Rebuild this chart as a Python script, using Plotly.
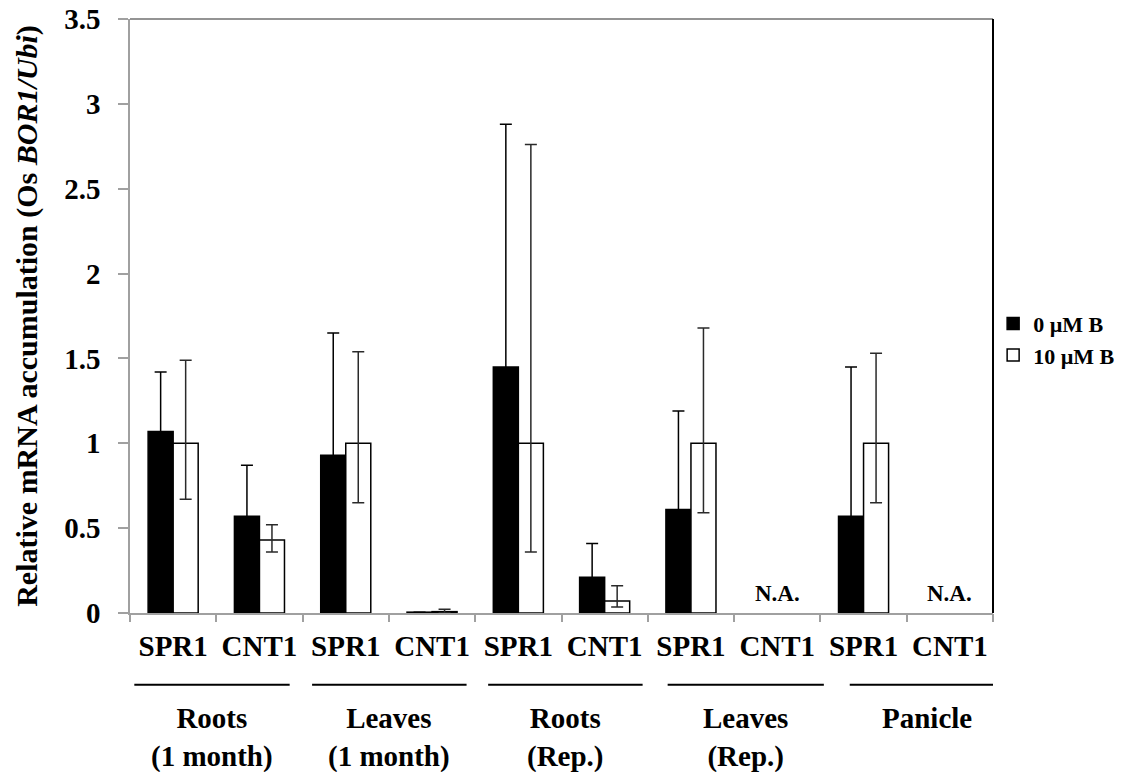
import plotly.graph_objects as go

# ---- data ----
categories = ["SPR1", "CNT1", "SPR1", "CNT1", "SPR1", "CNT1", "SPR1", "CNT1", "SPR1", "CNT1"]
groups = ["Roots<br>(1 month)", "Leaves<br>(1 month)", "Roots<br>(Rep.)", "Leaves<br>(Rep.)", "Panicle"]
series_names = ["0 \u00b5M B", "10 \u00b5M B"]

vals_0uM = [1.07, 0.57, 0.93, 0.005, 1.45, 0.21, 0.61, None, 0.57, None]
err_0uM = [0.35, 0.30, 0.72, 0.0, 1.43, 0.20, 0.58, None, 0.88, None]

vals_10uM = [1.00, 0.43, 1.00, 0.008, 1.00, 0.07, 1.00, None, 1.00, None]
err_10uM_plus = [0.49, 0.09, 0.54, 0.014, 1.76, 0.09, 0.68, None, 0.53, None]
err_10uM_minus = [0.33, 0.07, 0.35, 0.008, 0.64, 0.035, 0.41, None, 0.35, None]

na_label = "N.A."

# group underline extents (in category units)
group_line_start = [-0.45, 1.61, 3.65, 5.73, 7.84]
group_line_end = [1.35, 3.40, 5.44, 7.54, 9.62]

FONT = "Liberation Serif"
x_idx = list(range(len(categories)))

fig = go.Figure()
fig.add_trace(go.Bar(
    x=x_idx, y=vals_0uM, name=series_names[0],
    marker=dict(color="black", line=dict(color="black", width=1.5)),
    error_y=dict(type="data", array=err_0uM, visible=True,
                 color="black", thickness=1.5, width=6),
))
fig.add_trace(go.Bar(
    x=x_idx, y=vals_10uM, name=series_names[1],
    marker=dict(color="white", line=dict(color="black", width=1.5)),
    error_y=dict(type="data", symmetric=False, array=err_10uM_plus,
                 arrayminus=err_10uM_minus, visible=True,
                 color="#2a2a2a", thickness=1.5, width=6),
))
# invisible trace to activate boundary-tick axis
fig.add_trace(go.Scatter(x=[0], y=[0], mode="none", xaxis="x2",
                         showlegend=False, hoverinfo="skip"))

# N.A. labels for missing bars
for i, v in enumerate(vals_0uM):
    if v is None and vals_10uM[i] is None:
        fig.add_annotation(x=i, y=0, xref="x", yref="y", text=na_label,
                           showarrow=False, yanchor="bottom", yshift=5,
                           font=dict(family=FONT, size=23, color="black", weight="bold"))

# group lines and labels
for g, label in enumerate(groups):
    fig.add_shape(type="line", xref="x", yref="paper",
                  x0=group_line_start[g], x1=group_line_end[g], y0=-0.121, y1=-0.121,
                  line=dict(color="black", width=2))
    fig.add_annotation(x=(group_line_start[g] + group_line_end[g]) / 2, y=-0.146,
                       xref="x", yref="paper", text=label, showarrow=False,
                       yanchor="top", align="center",
                       font=dict(family=FONT, size=29, color="black", weight="bold"))

# frame top & right
fig.add_shape(type="line", xref="paper", yref="paper", x0=0, x1=1, y0=1, y1=1,
              line=dict(color="#707070", width=1.5))
fig.add_shape(type="line", xref="paper", yref="paper", x0=1, x1=1, y0=0, y1=1,
              line=dict(color="black", width=2))

fig.update_layout(
    width=1126, height=772,
    margin=dict(l=130, r=133, t=19, b=159, autoexpand=False),
    paper_bgcolor="white", plot_bgcolor="white",
    barmode="group", bargap=0.42, bargroupgap=0,
    showlegend=True,
    legend=dict(xref="container", yref="container", x=0.882, y=0.608,
                xanchor="left", yanchor="top",
                font=dict(family=FONT, size=22, color="black", weight="bold"),
                itemwidth=30, bgcolor="rgba(0,0,0,0)", tracegroupgap=0),
    xaxis=dict(range=[-0.5, 9.5], tickmode="array", tickvals=x_idx, ticktext=categories,
               ticks="", ticklabelstandoff=6, showgrid=False, zeroline=False, automargin=False,
               showline=True, linecolor="#a0a0a0", linewidth=1.5,
               tickfont=dict(family=FONT, size=29, color="black", weight="bold")),
    xaxis2=dict(range=[-0.5, 9.5], overlaying="x", anchor="y", side="bottom",
                tickmode="array", tickvals=[i - 0.5 for i in range(len(categories) + 1)],
                ticks="outside", ticklen=8, tickcolor="#a0a0a0", tickwidth=1.5, automargin=False,
                showticklabels=False, showgrid=False, zeroline=False, showline=False),
    yaxis=dict(range=[0, 3.5], tickmode="array",
               tickvals=[0, 0.5, 1, 1.5, 2, 2.5, 3, 3.5],
               ticktext=["0", "0.5", "1", "1.5", "2", "2.5", "3", "3.5"],
               ticks="outside", ticklen=10, tickcolor="#a0a0a0", tickwidth=1.5,
               ticklabelstandoff=12, automargin=False,
               showgrid=False, zeroline=False, showline=True, linecolor="#a0a0a0", linewidth=1.5,
               tickfont=dict(family=FONT, size=29, color="black", weight="bold"),
               title=dict(text="Relative mRNA accumulation (Os <i>BOR1/Ubi</i>)",
                          font=dict(family=FONT, size=30, color="black", weight="bold"),
                          standoff=18)),
)

fig.write_html("out.html")
